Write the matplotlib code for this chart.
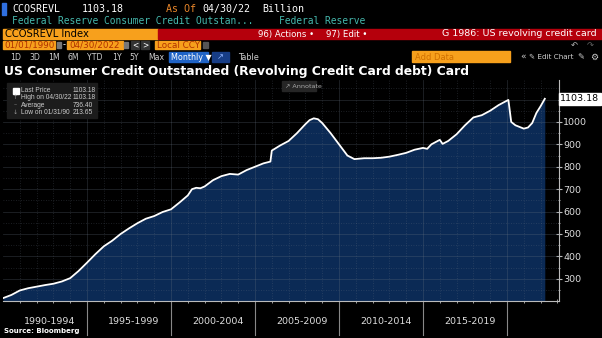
import matplotlib
matplotlib.use("Agg")
import matplotlib.pyplot as plt
from matplotlib.patches import Rectangle
import matplotlib.transforms as mtransforms

# monthly revolving credit outstanding, USD bn (CCOSREVL Index)
dates = ["1990-01", "1990-07", "1991-01", "1991-07", "1992-01", "1992-07", "1993-01", "1993-07",
         "1994-01", "1994-07", "1995-01", "1995-07", "1996-01", "1996-07", "1997-01", "1997-07",
         "1998-01", "1998-07", "1999-01", "1999-07", "2000-01", "2000-07", "2001-01", "2001-04",
         "2001-07", "2001-10", "2002-01", "2002-07", "2003-01", "2003-07", "2004-01", "2004-07",
         "2005-01", "2005-07", "2005-12", "2006-01", "2006-07", "2007-01", "2007-07", "2008-01",
         "2008-04", "2008-07", "2008-10", "2009-01", "2009-07", "2010-01", "2010-07", "2010-12",
         "2011-07", "2012-01", "2012-07", "2013-01", "2013-07", "2014-01", "2014-07", "2015-01",
         "2015-04", "2015-07", "2016-01", "2016-03", "2016-07", "2017-01", "2017-07", "2018-01",
         "2018-07", "2019-01", "2019-07", "2020-01", "2020-02", "2020-04", "2020-07", "2021-01",
         "2021-04", "2021-07", "2021-10", "2022-01", "2022-04"]
values = [213.65, 228, 248, 258, 265, 272, 278, 288,
          303, 335, 372, 410, 445, 470, 500, 525,
          548, 568, 580, 598, 610, 640, 672, 700,
          706, 704, 712, 740, 758, 768, 765, 785,
          800, 815, 823, 872, 895, 915, 950, 990,
          1008, 1016, 1012, 995, 950, 900, 850, 834,
          838, 838, 840, 845, 853, 862, 876, 884,
          880, 900, 920, 902, 915, 945, 985, 1020,
          1030, 1050, 1075, 1095, 1098, 1000, 985, 970,
          975, 995, 1040, 1070, 1103.18]

period_labels = ["1990-1994", "1995-1999", "2000-2004", "2005-2009", "2010-2014", "2015-2019"]
period_edges = [1995, 2000, 2005, 2010, 2015, 2020]
y_ticks = [300, 400, 500, 600, 700, 800, 900, 1000]

legend_rows = [("Last Price", "1103.18"), ("High on 04/30/22", "1103.18"),
               ("Average", "736.40"), ("Low on 01/31/90", "213.65")]
last_price = values[-1]

years = [int(d[:4]) + (int(d[5:]) - 1) / 12 for d in dates]

W, H = 602, 338
fig = plt.figure(figsize=(W / 100, H / 100), dpi=100, facecolor="black")

def fx(x):
    return x / W

def fy(y):
    return 1 - y / H

def txt(x, y, s, color="white", size=7, weight="normal", ha="left", family="DejaVu Sans", **kw):
    fig.text(fx(x), fy(y), s, color=color, fontsize=size, fontweight=weight, ha=ha,
             va="center", family=family, **kw)

def box(x0, y0, x1, y1, color):
    fig.patches.append(Rectangle((fx(x0), fy(y1)), fx(x1 - x0), (y1 - y0) / H,
                                 transform=fig.transFigure, color=color, zorder=0))

ORANGE = "#f7a01c"
RED = "#b5000c"
TEAL = "#45b8ad"
MONO = "DejaVu Sans Mono"

# --- terminal header ---
box(2, 3, 6, 15, "#2f6fe0")
txt(12, 9, "CCOSREVL", size=7.2, family=MONO)
txt(82, 9, "1103.18", size=7.2, family=MONO)
txt(166, 9, "As Of", color="#e8862a", size=7.2, family=MONO)
txt(202, 9, "04/30/22", size=7.2, family=MONO)
txt(262, 9, "Billion", size=7.2, family=MONO)
txt(12, 21, "Federal Reserve Consumer Credit Outstan...", color=TEAL, size=6.9, family=MONO)
txt(279, 21, "Federal Reserve", color=TEAL, size=6.9, family=MONO)

box(3, 29, 158, 39, ORANGE)
box(158, 29, 602, 39, RED)
txt(5, 34, "CCOSREVL Index", color="black", size=7.2)
txt(258, 34, "96) Actions \u2022", size=6.2)
txt(326, 34, "97) Edit \u2022", size=6.2)
txt(597, 34, "G 1986: US revolving credit card", size=6.8, ha="right")

box(3, 41, 55, 49, ORANGE)
txt(4, 45, "01/01/1990", color="#b03000", size=6.3)
box(57, 42, 61, 48, "#777777")
txt(63, 45, "-", color="white", size=6)
box(67, 41, 123, 49, ORANGE)
txt(69, 45, "04/30/2022", color="#b03000", size=6.3)
box(124, 42, 128, 48, "#777777")
box(131, 41, 139, 49, "#333333")
box(141, 41, 149, 49, "#333333")
txt(135, 45, "<", size=5.5, ha="center")
txt(145, 45, ">", size=5.5, ha="center")
box(155, 41, 200, 49, ORANGE)
txt(157, 45, "Local CCY", color="#b03000", size=6.3)
box(203, 42, 208, 48, "#555555")
txt(574, 45, "\u21b6", color="#bbbbbb", size=6, ha="center")
txt(590, 45, "\u21b7", color="#666666", size=6, ha="center")

for lbl, x in [("1D", 10), ("3D", 29), ("1M", 48), ("6M", 67), ("YTD", 87),
               ("1Y", 112), ("5Y", 129), ("Max", 148)]:
    txt(x, 57, lbl, color="#cfcfcf", size=5.6)
box(169, 52, 208, 62, "#1f63c6")
txt(171, 57, "Monthly \u25bc", size=5.8)
box(212, 52, 229, 62, "#173d86")
txt(220, 57, "\u2197", color="#8fb4ff", size=6, ha="center")
txt(238, 57, "Table", color="#cfcfcf", size=5.8)
box(412, 51, 510, 62, ORANGE)
txt(415, 57, "Add Data", color="#d07000", size=6)
txt(523, 57, "\u00ab", color="#cfcfcf", size=6.5, ha="center")
txt(529, 57, "\u270e Edit Chart", color="#cfcfcf", size=5.2)
txt(581, 57, "\u270e", color="#cfcfcf", size=6, ha="center")
txt(594, 57, "\u2699", color="#cfcfcf", size=6.5, ha="center")

txt(4, 72, "US Consumer Credit Outstanded (Revolving Credit Card debt) Card",
    size=8.9, weight="bold")

# --- chart ---
y0, y1 = 201, 1187
ax = fig.add_axes([fx(3), fy(301), fx(559 - 3), (301 - 80) / H])
ax.set_facecolor("black")
ax.set_xlim(1990.0, 1990 + 556 / 16.8)
ax.set_ylim(y0, y1)

GRID = "#6a7584"
for yr in range(1991, 2023):
    if yr % 5 == 0:
        ax.axvline(yr, color=GRID, lw=0.6, alpha=0.3, zorder=3)
    else:
        ax.axvline(yr, color=GRID, lw=0.6, ls=(0, (1, 2)), alpha=0.35, zorder=3)
for v in range(250, 1200, 50):
    if v % 100 == 0:
        ax.axhline(v, color=GRID, lw=0.6, alpha=0.3, zorder=3)
    else:
        ax.axhline(v, color=GRID, lw=0.6, ls=(0, (1, 2)), alpha=0.35, zorder=3)

ax.fill_between(years, values, y0, color="#0b2a55", lw=0, zorder=2)
ax.plot(years, values, color="white", lw=1.3, zorder=4)

for s in ["top", "left"]:
    ax.spines[s].set_visible(False)
ax.spines["bottom"].set_color("#bbbbbb")
ax.spines["right"].set_color("#bbbbbb")
ax.spines["bottom"].set_linewidth(0.8)
ax.spines["right"].set_linewidth(0.8)

ax.yaxis.tick_right()
ax.set_yticks(y_ticks)
ax.set_yticklabels([str(v) for v in y_ticks])
ax.set_yticks(list(range(250, 1150, 50)), minor=True)
ax.tick_params(axis="y", which="major", colors="#bbbbbb", labelcolor="#dddddd",
               direction="inout", length=4, width=0.8, labelsize=6.8, pad=1)
ax.tick_params(axis="y", which="minor", colors="#bbbbbb", direction="inout", length=2, width=0.6)
ax.set_xticks([])
ax.set_xticks(list(range(1991, 2024)), minor=True)
ax.tick_params(axis="x", which="minor", colors="#bbbbbb", direction="inout", length=3, width=0.6)

trans = mtransforms.blended_transform_factory(ax.transData, ax.transAxes)
for e in period_edges:
    ax.plot([e, e], [0, -34 / 221], transform=trans, color="#888888", lw=0.8, clip_on=False)
starts = [1990] + period_edges[:-1]
for lbl, a, b in zip(period_labels, starts, period_edges):
    ax.text((a + b) / 2 + 0.3, -21 / 221, lbl, transform=trans, color="#dddddd",
            fontsize=6.8, ha="center", va="center")

# last price tag on the value axis
ax.text(1.002, (last_price - y0) / (y1 - y0), "%.2f" % last_price, transform=ax.transAxes,
        color="black", fontsize=6.8, ha="left", va="center", clip_on=False, zorder=6,
        bbox=dict(boxstyle="square,pad=0.15", fc="white", ec="white"))

# legend panel
box(7, 83, 97, 118, "#1c1c1c")
ly = [90.7, 98, 105.3, 112.7]
box(13, 87.5, 19, 93.5, "white")
for (name, val), y in zip(legend_rows, ly):
    txt(21, y, name, color="#cccccc", size=4.8, family="Liberation Sans")
    txt(73, y, val, color="#cccccc", size=4.8, family="Liberation Sans")
txt(15, 98, "\u2191", color="#999999", size=4.5, ha="center")
txt(15, 105.3, "\u2013", color="#999999", size=4.5, ha="center")
txt(15, 112.7, "\u2193", color="#999999", size=4.5, ha="center")

box(282, 81, 316, 91, "#262626")
txt(285, 86, "\u2197 Annotate", color="#aaaaaa", size=4.6)

txt(4, 331, "Source: Bloomberg", color="white", size=5, weight="bold")

fig.savefig("out.png", dpi=100, facecolor="black")
